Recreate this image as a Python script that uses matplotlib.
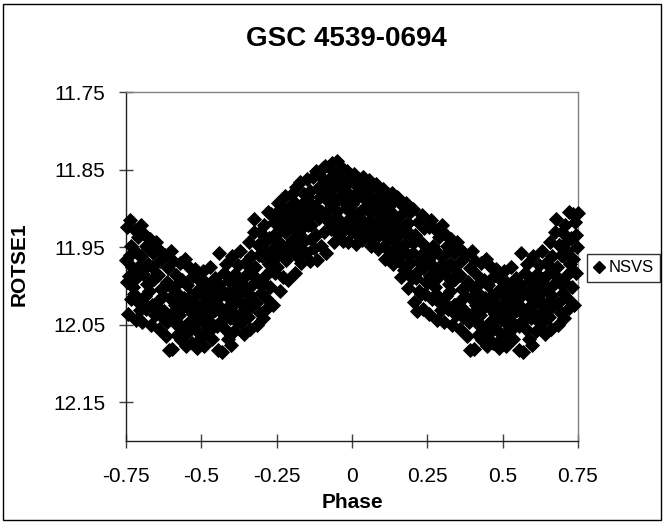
import matplotlib
matplotlib.use("Agg")
import matplotlib.pyplot as plt
from matplotlib.patches import Rectangle
from matplotlib.lines import Line2D

plt.rcParams['font.family'] = ['Liberation Sans', 'DejaVu Sans']

# NSVS photometry folded on one cycle (phase -0.5 .. 0.5)
phase = [
    -0.499, -0.496, -0.493, -0.490, -0.487, -0.484, -0.481, -0.479, -0.476,
    -0.474, -0.471, -0.468, -0.465, -0.462, -0.459, -0.456, -0.454, -0.451,
    -0.449, -0.446, -0.443, -0.440, -0.438, -0.435, -0.432, -0.429, -0.426,
    -0.424, -0.421, -0.418, -0.415, -0.412, -0.409, -0.406, -0.404, -0.401,
    -0.399, -0.396, -0.393, -0.390, -0.387, -0.384, -0.381, -0.379, -0.376,
    -0.374, -0.371, -0.368, -0.365, -0.362, -0.359, -0.356, -0.354, -0.351,
    -0.349, -0.346, -0.343, -0.340, -0.338, -0.335, -0.332, -0.329, -0.326,
    -0.324, -0.321, -0.318, -0.315, -0.312, -0.309, -0.306, -0.304, -0.301,
    -0.299, -0.296, -0.293, -0.290, -0.287, -0.284, -0.281, -0.279, -0.276,
    -0.274, -0.271, -0.268, -0.265, -0.262, -0.259, -0.256, -0.254, -0.251,
    -0.249, -0.246, -0.243, -0.240, -0.238, -0.235, -0.232, -0.229, -0.226,
    -0.224, -0.221, -0.218, -0.215, -0.212, -0.209, -0.206, -0.204, -0.201,
    -0.199, -0.196, -0.193, -0.190, -0.188, -0.185, -0.182, -0.179, -0.176,
    -0.174, -0.171, -0.168, -0.165, -0.162, -0.159, -0.156, -0.154, -0.151,
    -0.149, -0.146, -0.143, -0.140, -0.138, -0.135, -0.132, -0.129, -0.126,
    -0.124, -0.121, -0.118, -0.115, -0.112, -0.109, -0.106, -0.104, -0.101,
    -0.099, -0.096, -0.093, -0.090, -0.088, -0.085, -0.082, -0.079, -0.076,
    -0.074, -0.071, -0.068, -0.065, -0.062, -0.059, -0.056, -0.054, -0.051,
    -0.049, -0.046, -0.043, -0.040, -0.038, -0.035, -0.032, -0.029, -0.026,
    -0.024, -0.021, -0.018, -0.015, -0.012, -0.009, -0.006, -0.004, -0.001,
    0.001, 0.004, 0.007, 0.010, 0.012, 0.015, 0.018, 0.021, 0.024,
    0.026, 0.029, 0.032, 0.035, 0.037, 0.040, 0.043, 0.046, 0.049,
    0.051, 0.054, 0.057, 0.060, 0.062, 0.065, 0.068, 0.071, 0.074,
    0.076, 0.079, 0.082, 0.085, 0.087, 0.090, 0.093, 0.096, 0.099,
    0.101, 0.104, 0.107, 0.110, 0.112, 0.115, 0.118, 0.121, 0.124,
    0.126, 0.129, 0.132, 0.135, 0.137, 0.140, 0.143, 0.146, 0.149,
    0.151, 0.154, 0.157, 0.160, 0.162, 0.165, 0.168, 0.171, 0.174,
    0.176, 0.179, 0.182, 0.185, 0.187, 0.190, 0.193, 0.196, 0.199,
    0.201, 0.204, 0.207, 0.210, 0.212, 0.215, 0.218, 0.221, 0.224,
    0.226, 0.229, 0.232, 0.235, 0.237, 0.240, 0.243, 0.246, 0.249,
    0.251, 0.254, 0.257, 0.260, 0.262, 0.265, 0.268, 0.271, 0.274,
    0.276, 0.279, 0.282, 0.285, 0.287, 0.290, 0.293, 0.296, 0.299,
    0.301, 0.304, 0.307, 0.310, 0.312, 0.315, 0.318, 0.321, 0.324,
    0.326, 0.329, 0.332, 0.335, 0.337, 0.340, 0.343, 0.346, 0.349,
    0.351, 0.354, 0.357, 0.360, 0.362, 0.365, 0.368, 0.371, 0.374,
    0.376, 0.379, 0.382, 0.385, 0.387, 0.390, 0.393, 0.396, 0.399,
    0.401, 0.404, 0.407, 0.410, 0.412, 0.415, 0.418, 0.421, 0.424,
    0.426, 0.429, 0.432, 0.435, 0.437, 0.440, 0.443, 0.446, 0.449,
    0.451, 0.454, 0.457, 0.460, 0.462, 0.465, 0.468, 0.471, 0.474,
    0.476, 0.479, 0.482, 0.485, 0.487, 0.490, 0.493, 0.496, 0.499,
    # points in the thick middle of the band
    -0.492, -0.483, -0.467, -0.458, -0.447, -0.436, -0.419, -0.408,
    -0.397, -0.383, -0.369, -0.357, -0.344, -0.333, -0.317, -0.307,
    -0.297, -0.286, -0.270, -0.258, -0.247, -0.236, -0.220, -0.208,
    -0.197, -0.186, -0.172, -0.158, -0.147, -0.136, -0.122, -0.108,
    -0.097, -0.086, -0.072, -0.058, -0.047, -0.036, -0.022, -0.008,
    0.003, 0.014, 0.028, 0.042, 0.053, 0.064, 0.078, 0.092,
    0.103, 0.114, 0.128, 0.142, 0.153, 0.164, 0.178, 0.192,
    0.203, 0.214, 0.228, 0.242, 0.253, 0.264, 0.278, 0.292,
    0.303, 0.314, 0.328, 0.342, 0.353, 0.364, 0.378, 0.392,
    0.403, 0.414, 0.428, 0.442, 0.453, 0.464, 0.478, 0.492,
]
mag = [
    12.012, 11.981, 12.046, 12.078, 12.030, 11.996, 12.061, 12.021, 12.054,
    12.038, 11.975, 12.005, 12.069, 12.024, 12.052, 11.990, 12.031, 12.013,
    12.026, 12.083, 11.998, 11.958, 12.047, 12.012, 12.085, 12.036, 11.983,
    12.008, 12.055, 11.972, 12.029, 12.068, 11.994, 12.041, 12.017, 12.076,
    11.962, 12.035, 12.002, 12.058, 11.985, 12.021, 12.046, 11.973, 12.011,
    12.019, 11.955, 12.048, 11.991, 12.033, 12.062, 11.970, 12.006, 12.027,
    11.985, 12.040, 11.944, 12.012, 12.055, 11.962, 12.026, 11.998, 11.931,
    11.914, 11.975, 12.022, 12.050, 11.947, 11.996, 12.035, 11.930, 12.009,
    11.962, 12.041, 11.921, 11.987, 12.015, 11.941, 12.028, 11.905, 11.972,
    11.938, 12.002, 11.907, 11.965, 12.024, 11.918, 11.983, 11.950, 11.906,
    11.975, 11.893, 11.944, 12.006, 11.912, 11.958, 11.925, 11.989, 11.902,
    11.931, 11.884, 11.967, 11.908, 11.993, 11.946, 11.897, 11.955, 11.919,
    11.882, 11.940, 11.903, 11.984, 11.921, 11.873, 11.962, 11.912, 11.948,
    11.928, 11.866, 11.971, 11.897, 11.943, 11.881, 11.915, 11.957, 11.889,
    11.862, 11.921, 11.893, 11.968, 11.878, 11.940, 11.906, 11.859, 11.951,
    11.897, 11.852, 11.935, 11.966, 11.874, 11.913, 11.886, 11.949, 11.861,
    11.905, 11.848, 11.931, 11.870, 11.845, 11.958, 11.889, 11.916, 11.862,
    11.880, 11.927, 11.841, 11.896, 11.852, 11.944, 11.868, 11.911, 11.839,
    11.903, 11.858, 11.935, 11.874, 11.918, 11.847, 11.889, 11.942, 11.866,
    11.871, 11.925, 11.852, 11.898, 11.944, 11.882, 11.912, 11.861, 11.930,
    11.894, 11.866, 11.856, 11.921, 11.946, 11.879, 11.907, 11.935, 11.862,
    11.912, 11.870, 11.941, 11.885, 11.859, 11.926, 11.898, 11.875, 11.934,
    11.883, 11.931, 11.864, 11.905, 11.948, 11.872, 11.918, 11.893, 11.939,
    11.902, 11.869, 11.937, 11.884, 11.953, 11.915, 11.876, 11.928, 11.896,
    11.921, 11.875, 11.948, 11.965, 11.893, 11.909, 11.882, 11.940, 11.931,
    11.903, 11.958, 11.880, 11.927, 11.972, 11.891, 11.944, 11.913, 11.885,
    11.936, 11.887, 11.968, 11.910, 11.989, 11.952, 11.897, 11.924, 11.979,
    11.946, 11.893, 11.982, 11.919, 12.003, 11.961, 11.905, 11.935, 11.990,
    11.957, 11.901, 12.021, 11.934, 11.984, 12.033, 11.918, 11.969, 12.006,
    11.942, 12.011, 11.909, 11.977, 12.030, 11.926, 11.961, 11.995, 11.951,
    11.966, 11.924, 12.036, 11.987, 11.915, 12.017, 11.948, 11.976, 12.002,
    11.992, 11.928, 12.044, 11.958, 12.019, 11.937, 11.974, 12.031, 11.921,
    11.961, 12.047, 11.985, 11.933, 12.013, 11.949, 12.030, 11.997, 11.972,
    12.006, 11.940, 12.050, 11.975, 12.024, 11.957, 11.991, 12.038, 11.944,
    11.950, 12.021, 11.986, 12.056, 11.968, 12.004, 12.040, 11.958, 12.013,
    12.032, 11.960, 12.064, 11.995, 12.047, 11.977, 12.083, 12.015, 11.955,
    12.003, 12.082, 11.968, 12.041, 12.024, 11.986, 12.063, 12.010, 12.052,
    12.037, 11.971, 12.070, 12.016, 11.992, 12.055, 12.026, 11.965, 12.078,
    11.999, 12.061, 12.029, 11.976, 12.045, 12.012, 12.073, 11.987, 12.036,
    12.021, 11.978, 12.057, 12.007, 12.080, 11.991, 12.043, 12.068, 12.029,
    12.040, 12.008, 12.048, 12.019, 12.052, 12.028, 12.040, 12.010,
    12.022, 11.995, 12.035, 12.000, 12.020, 11.980, 11.990, 11.960,
    11.995, 11.955, 11.980, 11.935, 11.960, 11.928, 11.950, 11.915,
    11.925, 11.895, 11.935, 11.902, 11.885, 11.922, 11.905, 11.875,
    11.882, 11.912, 11.900, 11.925, 11.888, 11.920, 11.884, 11.905,
    11.910, 11.888, 11.922, 11.900, 11.918, 11.895, 11.925, 11.905,
    11.902, 11.930, 11.918, 11.955, 11.925, 11.958, 11.930, 11.970,
    11.945, 11.990, 11.960, 12.010, 11.995, 11.960, 12.010, 11.985,
    12.020, 11.975, 11.995, 12.025, 11.985, 12.030, 12.000, 12.040,
    12.035, 12.000, 12.050, 12.015, 12.050, 12.025, 12.040, 12.005,
]

x_ticks = [-0.75, -0.5, -0.25, 0, 0.25, 0.5, 0.75]
x_tick_labels = ['-0.75', '-0.5', '-0.25', '0', '0.25', '0.5', '0.75']
y_ticks = [11.75, 11.85, 11.95, 12.05, 12.15]
y_tick_labels = ['11.75', '11.85', '11.95', '12.05', '12.15']

# the chart repeats the cycle: phases beyond +-0.5 are the same points shifted by one period
plot_phase = list(phase)
plot_mag = list(mag)
for p, m in zip(phase, mag):
    if p - 1 >= -0.75:
        plot_phase.append(p - 1)
        plot_mag.append(m)
    if p + 1 <= 0.75:
        plot_phase.append(p + 1)
        plot_mag.append(m)

W, H = 664, 524
fig = plt.figure(figsize=(W / 100, H / 100), dpi=100)

# plot area in pixels: x 126..578, y 92..441
ax = fig.add_axes([126 / W, 1 - 441 / H, (578 - 126) / W, (441 - 92) / H])

ax.plot(plot_phase, plot_mag, linestyle='none', marker='D', markersize=7.2,
        color='black', markeredgewidth=0.6, clip_on=False, zorder=3)

ax.set_xlim(-0.75, 0.75)
ax.set_ylim(12.2, 11.75)
ax.set_xticks(x_ticks)
ax.set_xticklabels(x_tick_labels)
ax.set_yticks(y_ticks)
ax.set_yticklabels(y_tick_labels)

ax.tick_params(axis='both', direction='inout', length=10, width=1, color='#404040',
               labelsize=15)
ax.tick_params(axis='x', pad=14)
ax.tick_params(axis='y', pad=10)

for side in ['top', 'right']:
    ax.spines[side].set_color('#808080')
    ax.spines[side].set_linewidth(1)
for side in ['left', 'bottom']:
    ax.spines[side].set_color('#202020')
    ax.spines[side].set_linewidth(1)

fig.text(346 / W, 1 - 39 / H, 'GSC 4539-0694', ha='center', va='center',
         fontsize=20, fontweight='bold')
fig.text(352 / W, 1 - 503 / H, 'Phase', ha='center', va='center',
         fontsize=15, fontweight='bold')
fig.text(19 / W, 1 - 264 / H, 'ROTSE1', ha='center', va='center', rotation=90,
         fontsize=15, fontweight='bold')

handle = Line2D([], [], linestyle='none', marker='D', markersize=6.5, color='black')
leg = fig.legend([handle], ['NSVS'], loc='center left',
                 bbox_to_anchor=(587 / W, 1 - 268 / H), fontsize=12,
                 frameon=True, fancybox=False, handlelength=0.6,
                 handletextpad=0.3, borderpad=0.4, borderaxespad=0)
leg.get_frame().set_edgecolor('black')
leg.get_frame().set_linewidth(1)

fig.patches.append(Rectangle((3 / W, 4 / H), 658 / W, 516 / H, transform=fig.transFigure,
                             fill=False, edgecolor='black', linewidth=1))

fig.savefig('out.png', dpi=100)
